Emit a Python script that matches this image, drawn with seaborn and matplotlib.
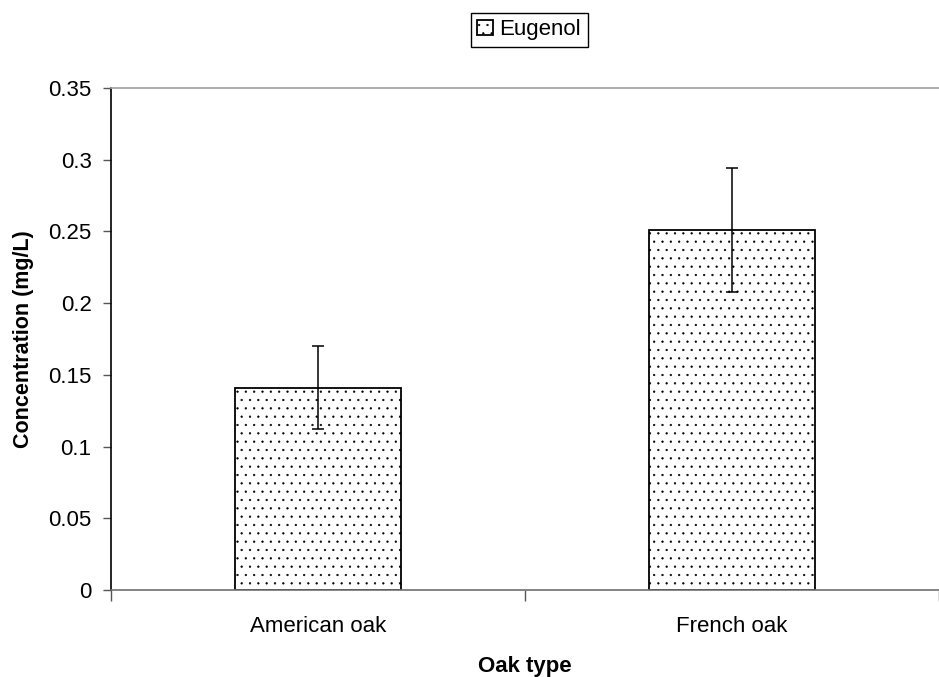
import matplotlib
matplotlib.use("Agg")
import matplotlib.pyplot as plt
import matplotlib.ticker as mticker
import seaborn as sns
import pandas as pd

sns.set_theme(style="white")
plt.rcParams['font.family'] = ['Liberation Sans', 'DejaVu Sans']
plt.rcParams['text.color'] = 'black'
plt.rcParams['axes.labelcolor'] = 'black'
plt.rcParams['xtick.color'] = 'black'
plt.rcParams['ytick.color'] = 'black'
plt.rcParams['hatch.color'] = '#555555'
plt.rcParams['hatch.linewidth'] = 0.4

# ─── DATA ─────────────────────────────────────────────────────────────────────
OAK_TYPES = ["American oak", "French oak"]
EUGENOL = [0.141, 0.251]        # mg/L
EUGENOL_ERR = [0.029, 0.043]    # error bar half-widths

df = pd.DataFrame({"oak": OAK_TYPES, "conc": EUGENOL})

# ─── FIGURE ───────────────────────────────────────────────────────────────────
fig = plt.figure(figsize=(9.39, 6.77), dpi=100)
ax = fig.add_axes([0.1182, 0.1285, 0.8818, 0.7415])

sns.barplot(data=df, x="oak", y="conc", order=OAK_TYPES, errorbar=None,
            width=0.4, color="white", edgecolor="black", linewidth=1.3,
            label="Eugenol", ax=ax)
for bar in ax.patches:
    bar.set_hatch("..")

centers = [p.get_x() + p.get_width() / 2 for p in ax.patches]
ax.errorbar(centers, EUGENOL, yerr=EUGENOL_ERR, fmt="none", ecolor="black",
            elinewidth=1.1, capsize=4, capthick=1.1)

ax.set_xlim(-0.5, 1.474)
ax.set_ylim(0, 0.35)
ax.set_yticks([0, 0.05, 0.1, 0.15, 0.2, 0.25, 0.3, 0.35])
ax.yaxis.set_major_formatter(mticker.FuncFormatter(lambda v, _: f"{v:g}"))

# category boundary ticks on the x axis
ax.set_xticks([-0.5, 0.5, 1.5], minor=True)
ax.tick_params(axis="x", which="major", length=0, pad=19, labelsize=16)
ax.tick_params(axis="x", which="minor", direction="out", length=8,
               width=1, color="#555555", bottom=True)
ax.tick_params(axis="y", direction="out", length=6, width=1,
               color="#555555", left=True, pad=8, labelsize=16)

for side in ["left", "bottom", "top"]:
    ax.spines[side].set_visible(True)
ax.spines["right"].set_visible(False)
ax.spines["left"].set_color("black")
ax.spines["left"].set_linewidth(1.2)
ax.spines["bottom"].set_color("#707070")
ax.spines["bottom"].set_linewidth(1.2)
ax.spines["top"].set_color("#a0a0a0")
ax.spines["top"].set_linewidth(1.2)

ax.set_xlabel("Oak type", fontsize=16, fontweight="bold")
ax.set_ylabel("Concentration (mg/L)", fontsize=15.5, fontweight="bold")
ax.xaxis.set_label_coords(0.5, -0.131)
ax.yaxis.set_label_coords(-0.0925, 0.5)

leg = ax.legend(loc="center", bbox_to_anchor=(0.505, 1.116), fontsize=16,
                frameon=True, fancybox=False, framealpha=1,
                handlelength=0.7, handleheight=0.7, handletextpad=0.3,
                borderpad=0.3, borderaxespad=0)
leg.get_frame().set_edgecolor("black")
leg.get_frame().set_linewidth(1.0)

fig.savefig("out.png", dpi=100)
plt.close(fig)
